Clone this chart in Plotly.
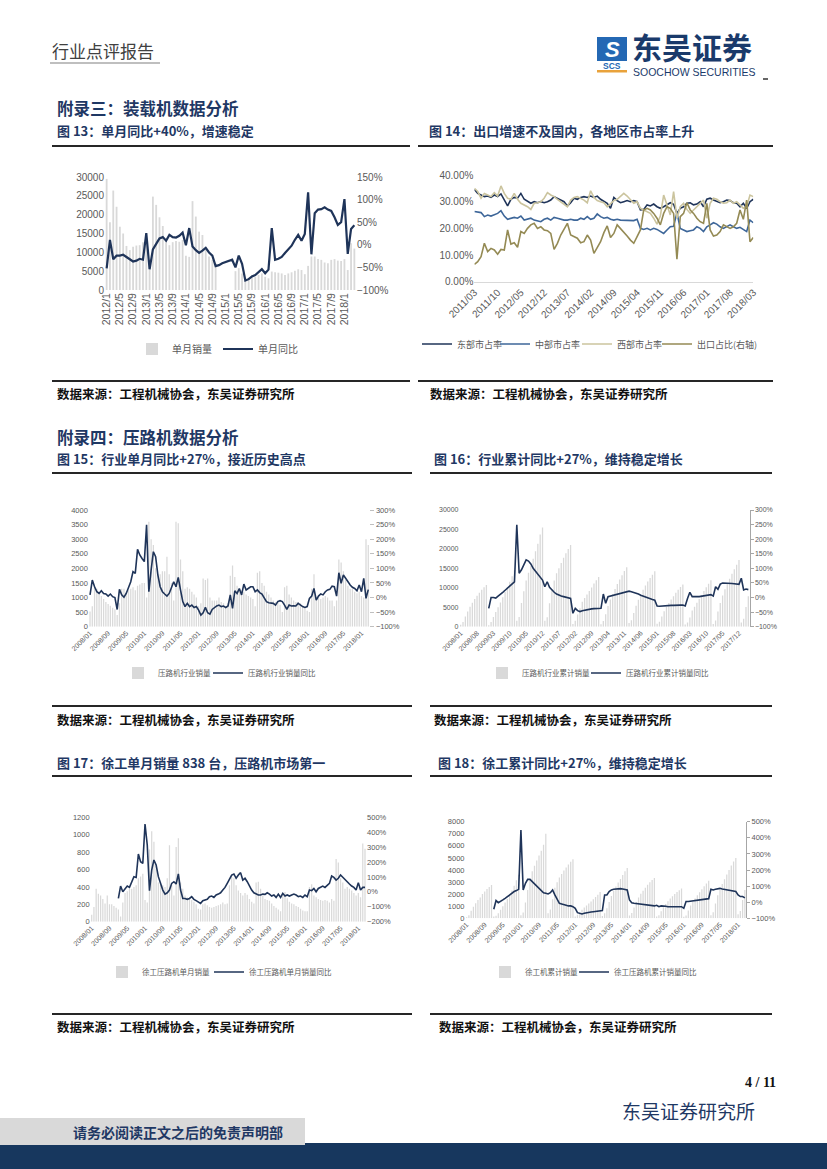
import plotly.graph_objects as go

W, H = 827, 1169
def X(p): return p / W
def Y(p): return 1 - p / H

def months(y0, m0, n, pad=True):
    out = []
    y, m = y0, m0
    for _ in range(n):
        out.append(f"{y}/{m:02d}" if pad else f"{y}/{m}")
        m += 1
        if m > 12:
            m = 1
            y += 1
    return out

# ---------------- DATA ----------------
# Fig 13: loader monthly sales & YoY, 2012/1 - 2018/4
cats13 = months(2012, 1, 76, pad=False)
sales13 = [29500, 18000, 26400, 22100, 16800, 15000, 11700, 10600, 11500, 11800, 11900, 12700,
           13000, 6600, 24800, 22600, 19300, 17000, 13300, 11900, 12700, 13000, 12800, 13300,
           9100, 8800, 23600, 19500, 15500, 14600, 10600, 8900, 8000, 7100, None, None,
           None, None, None, 5000, 5800, 4400, 2700, 3100, 4000, 3500, 4000, 4400,
           3500, 3100, 4900, 4700, 4600, 4400, 4000, 4400, 4700, 5100, 5500, 5300,
           4200, 6400, 8900, 8900, 8200, 8000, 7300, 7100, 8000, 8200, 7800, 7700,
           8200, 5300, 12400, 11000]
yoy13 = [-52, 11, -32, -24, -24, -22, -27, -33, -37, -35, -31, -33,
         26, -54, -10, 2, 14, 17, 9, 22, 17, 16, 20, 27,
         -1, 37, -4, -12, -18, -13, -7, -17, -24, -47, -45, -41,
         -38, -35, -33, -50, -24, -42, -79, -76, -70, -67, -61, -54,
         -63, -55, 37, -33, -31, -27, -18, -11, -2, 11, 22, 9,
         24, 116, -21, 70, 78, 79, 83, 78, 75, 61, 44, 50,
         101, -20, 35, 43]

# Fig 14: regional market share, 2011/03 - 2018/03 (%)
cats14 = months(2011, 3, 85)
east14 = [34.6, 33.1, 32.5, 31.9, 32.1, 31.6, 32.5, 31.9, 32.9, 30.6,
          28.4, 30.9, 31.6, 31.3, 33.1, 30.9, 30.0, 29.4, 30.0, 29.6,
          30.0, 29.6, 30.0, 30.6, 31.9, 31.3, 30.9, 30.0, 28.4, 29.6,
          31.3, 30.9, 31.6, 31.9, 31.6, 32.1, 31.6, 32.1, 30.9, 30.0,
          29.4, 27.5, 31.6, 30.4, 29.6, 30.0, 30.4, 30.0, 30.4, 30.0,
          26.9, 27.1, 28.8, 28.4, 29.1, 28.1, 27.5, 28.1, 28.8, 29.6,
          29.0, 25.6, 27.5, 28.1, 29.4, 29.6, 28.8, 29.1, 30.0, 28.1,
          30.9, 31.3, 30.6, 30.0, 29.6, 30.0, 30.6, 30.4, 29.6, 29.4,
          28.1, 29.4, 27.5, 30.0, 30.9]
central14 = [26.3, 26.0, 25.9, 24.4, 25.0, 24.6, 25.0, 25.6, 26.6, 24.6,
             23.4, 23.8, 24.1, 23.8, 24.6, 23.1, 23.4, 23.8, 23.1, 22.9,
             22.5, 23.4, 23.8, 23.1, 24.1, 23.8, 23.4, 23.1, 23.1, 23.4,
             23.1, 23.1, 23.8, 23.4, 24.4, 23.4, 23.8, 25.4, 24.4, 23.8,
             24.1, 23.4, 23.1, 23.4, 23.1, 23.1, 23.1, 23.1, 22.9, 23.4,
             20.0, 19.6, 20.0, 19.4, 20.0, 19.6, 18.8, 18.1, 19.4, 20.6,
             20.8, 25.9, 20.0, 19.4, 18.8, 19.1, 19.4, 20.6, 20.0, 18.8,
             20.6, 21.3, 22.1, 21.6, 20.6, 20.0, 20.6, 21.3, 20.6, 20.0,
             20.4, 19.6, 18.8, 23.1, 22.1]
west14 = [35.0, 33.8, 31.3, 33.1, 32.5, 31.9, 33.4, 32.1, 35.9, 33.1,
          31.3, 30.9, 33.1, 30.9, 29.4, 28.8, 28.1, 27.1, 29.4, 29.6,
          30.0, 31.3, 33.4, 32.5, 31.9, 30.9, 30.0, 28.8, 28.1, 30.6,
          31.6, 31.9, 31.3, 30.6, 29.6, 34.1, 31.6, 30.4, 30.0, 29.6,
          28.1, 29.4, 30.4, 30.9, 31.9, 33.1, 32.1, 30.6, 29.4, 30.0,
          27.5, 26.9, 26.3, 25.6, 23.8, 21.6, 24.6, 32.5, 28.8, 25.0,
          33.8, 23.8, 28.1, 29.4, 27.1, 25.6, 26.9, 28.1, 29.6, 30.6,
          23.8, 29.4, 31.3, 30.9, 30.0, 29.4, 29.6, 30.6, 29.4, 30.0,
          28.8, 27.5, 28.1, 32.5, 31.9]
export14 = [6.5, 7.5, 9.4, 14.4, 11.3, 12.5, 11.9, 10.3, 12.1, 11.9,
            19.4, 14.1, 14.6, 12.9, 18.8, 18.1, 20.0, 21.3, 21.9, 20.0,
            20.6, 19.4, 19.1, 18.1, 12.1, 14.4, 17.5, 20.0, 21.9, 17.5,
            16.9, 16.3, 14.6, 15.0, 17.5, 15.6, 10.6, 12.9, 15.0, 18.4,
            20.9, 16.6, 18.1, 21.3, 20.0, 18.8, 17.1, 15.6, 14.4, 16.9,
            19.4, 26.9, 27.5, 26.9, 25.6, 23.8, 21.3, 25.6, 28.1, 27.5,
            25.6, 8.4, 24.4, 25.6, 29.6, 26.9, 25.6, 23.8, 22.5, 21.9,
            29.4, 19.4, 17.1, 17.5, 18.8, 21.3, 20.6, 20.0, 20.6, 21.9,
            26.9, 23.4, 30.6, 15.0, 16.6]
pct_ticks14 = [0, 10, 20, 30, 40]
pct_text14 = ["0.00%", "10.00%", "20.00%", "30.00%", "40.00%"]

# Fig 15-18: roller data, 2008/01 - 2018/04
cats_r = months(2008, 1, 124)
sales15 = [520, 700, 1400, 1300, 1200, 1050, 950, 850, 780, 720, 650, 600,
           400, 800, 1300, 1300, 1200, 1250, 1300, 1350, 1250, 1400, 1450, 1500,
           1500, 1000, 3600, 3000, 2800, 2000, 1800, 1800, 1900, 1900, 2400, 1800,
           1500, 900, 3600, 3550, 2300, 1900, 1300, 1350, 1300, 1200, 1100, 1000,
           700, 800, 1650, 1600, 1650, 1000, 900, 900, 900, 1000, 850, 800,
           650, 800, 1750, 2100, 1700, 1400, 1300, 1250, 1200, 1100, 1050, 1000,
           950, 700, 1850, 1900, 1500, 1400, 1200, 1100, 1000, 900, 850, 900,
           750, 500, 1350, 1400, 1100, 1000, 900, 850, 850, 800, 700, 650,
           550, 500, 1300, 1800, 1000, 1000, 950, 1000, 1050, 1000, 900, 900,
           700, 900, 2300, 2200, 1900, 1600, 1400, 1300, 1300, 1200, 1150, 1200,
           1050, 1000, 3000, 2800]
yoy15 = [9, 60, 37, 20, 14, 23, 14, 12, 5, 12, 3, 0,
         -41, 28, 9, 1, 14, 37, 54, 89, 83, 165, 146, 134,
         123, 249, 20, 94, 157, 140, 77, 37, 20, 12, 5, 14,
         31, 54, 37, 69, 26, -14, -31, -20, -31, -26, -34, -31,
         -43, -60, -52, -34, -52, -57, -41, -34, -29, -26, -31, -29,
         -34, -29, 9, -37, 23, 14, 31, 9, 46, 26, 31, 37,
         37, 20, 26, 17, 12, 1, -14, -18, -18, -20, -26, -14,
         -11, -14, -26, -41, -26, -29, -28, -29, -20, -26, -31, -34,
         -31, -3, 5, 31, -9, 5, 12, 9, 20, 26, 28, 39,
         37, 5, 85, 49, 77, 66, 54, 43, 35, 31, 23, 43,
         20, 66, -3, 27]
cum16 = [520, 1220, 2620, 3920, 5120, 6170, 7120, 7970, 8750, 9470, 10120, 10720,
         400, 1200, 2500, 3800, 5000, 6250, 7550, 8900, 10150, 11550, 13000, 14500,
         1500, 2500, 6100, 9100, 11900, 13900, 15700, 17500, 19400, 21300, 23700, 25500,
         1500, 2400, 6000, 9550, 11850, 13750, 15050, 16400, 17700, 18900, 20000, 21000,
         700, 1500, 3150, 4750, 6400, 7400, 8300, 9200, 10100, 11100, 11950, 12750,
         650, 1450, 3200, 5300, 7000, 8400, 9700, 10950, 12150, 13250, 14300, 15300,
         950, 1650, 3500, 5400, 6900, 8300, 9500, 10600, 11600, 12500, 13350, 14250,
         750, 1250, 2600, 4000, 5100, 6100, 7000, 7850, 8700, 9500, 10200, 10850,
         550, 1050, 2350, 4150, 5150, 6150, 7100, 8100, 9150, 10150, 11050, 11950,
         700, 1600, 3900, 6100, 8000, 9600, 11000, 12300, 13600, 14800, 15950, 17150,
         1050, 2050, 5050, 7850]
cumyoy16 = [None] * 12 + [
    -37, 0, 0, -2, 5, 10, 18, 25, 32, 40, 46, 54,
    249, 83, 95, 110, 129, 125, 115, 100, 90, 77, 68, 60,
    37, 54, 35, 25, 18, 12, 8, 5, 3, 1, -1, -3,
    -54, -37, -45, -48, -45, -43, -41, -40, -39, -38, -37, -37,
    -37, 12, -20, 3, 5, 8, 10, 12, 14, 16, 18, 20,
    22, 20, 18, 15, 12, 8, 5, 2, -3, -5, -7, -9,
    -29, -30, -29, -28, -28, -27, -27, -27, -26, -26, -26, -26,
    -29, -3, 18, 3, 2, 3, 3, 4, 5, 6, 8, 10,
    5, 37, 28, 46, 50, 50, 49, 48, 48, 47, 46, 45,
    66, 26, 29, 27]
sales17 = [80, 170, 380, 320, 300, 260, 210, 300, 200, 200, 180, 160,
           140, 60, 220, 330, 350, 380, 380, 400, 420, 500, 520, 550,
           250, 220, 830, 1040, 920, 640, 450, 430, 420, 400, 500, 880,
           420, 300, 860, 960, 450, 380, 300, 280, 260, 250, 230, 200,
           150, 140, 200, 210, 190, 170, 160, 170, 180, 190, 200, 220,
           200, 210, 420, 520, 500, 420, 360, 330, 300, 330, 310, 260,
           230, 210, 450, 460, 380, 300, 260, 250, 240, 210, 180, 160,
           140, 120, 320, 340, 270, 230, 210, 200, 180, 170, 150, 130,
           120, 120, 400, 430, 300, 280, 260, 250, 240, 250, 240, 220,
           260, 240, 720, 680, 500, 450, 380, 400, 380, 360, 330, 300,
           330, 280, 900, 838]
yoy17 = [None] * 12 + [
    -44, 39, 1, 23, 39, 30, 68, 102, 97, 254, 202, 191,
    455, 314, 8, 146, 214, 180, 102, 53, 12, -15, -6, 12,
    57, 68, 53, 120, 12, -44, -44, -50, -44, -32, -50, -59,
    -66, -77, -59, -55, -50, -32, -28, -37, -21, -15, -6, 12,
    30, 57, 84, 113, 120, 91, 113, 129, 79, 91, 68, 39,
    12, -6, -15, -21, -21, -15, -17, -6, -15, -28, -21, -37,
    -15, -37, -10, -28, -21, -28, -21, -15, -21, -32, -28, -37,
    -21, -32, 12, 8, 23, 1, 23, 30, 39, 30, 46, 57,
    106, 97, 79, 91, 113, 97, 79, 62, 53, 39, 30, 12,
    62, 12, 30, 30]
cum18 = [80, 250, 630, 950, 1250, 1510, 1720, 2020, 2220, 2420, 2600, 2760,
         140, 210, 420, 700, 1000, 1300, 1600, 1950, 2300, 2700, 3150, 3600,
         250, 470, 1300, 2340, 3260, 3900, 4350, 4780, 5200, 5600, 6100, 7000,
         420, 720, 1580, 2540, 2990, 3370, 3670, 3950, 4210, 4460, 4690, 4890,
         150, 290, 490, 700, 890, 1060, 1220, 1390, 1570, 1760, 1960, 2180,
         200, 410, 830, 1350, 1850, 2270, 2630, 2960, 3260, 3590, 3900, 4160,
         230, 440, 890, 1350, 1730, 2030, 2290, 2540, 2780, 2990, 3170, 3330,
         140, 260, 580, 920, 1190, 1420, 1630, 1830, 2010, 2180, 2330, 2460,
         120, 240, 640, 1070, 1370, 1650, 1910, 2160, 2400, 2650, 2890, 3110,
         260, 500, 1220, 1900, 2400, 2850, 3230, 3630, 4010, 4370, 4700, 5000,
         330, 610, 1510, 2348]
cumyoy18 = [None] * 12 + [
    -44, 10, -3, 4, 14, 24, 35, 45, 55, 66, 72, 80,
    449, 76, 117, 142, 142, 128, 117, 101, 86, 72, 59, 55,
    51, 59, 76, 45, 18, -7, -11, -17, -19, -23, -23, -28,
    -38, -65, -69, -73, -69, -65, -63, -61, -59, -57, -54, -54,
    -52, 45, 45, 66, 76, 80, 82, 82, 84, 82, 80, 76,
    14, -3, -7, -9, -11, -13, -15, -17, -17, -17, -19, -23,
    -19, -28, -23, -23, -25, -28, -28, -28, -28, -28, -28, -28,
    -38, 4, 4, 6, 8, 10, 12, 14, 16, 18, 20, 22,
    80, 76, 80, 84, 86, 82, 80, 76, 74, 72, 70, 66,
    45, 35, 35, 27]

# ---------------- STYLE ----------------
NAVY = "#1f3459"
BARC = "#d9d9d9"
TICK = "#595959"
CJK = "Noto Sans CJK SC"
LAT = "Liberation Sans, Noto Sans CJK SC"

fig = go.Figure()
legends = {}
_lg_count = [0]

def lg(x, y, size):
    _lg_count[0] += 1
    key = "legend" if _lg_count[0] == 1 else f"legend{_lg_count[0]}"
    legends[key] = dict(x=X(x), y=Y(y), xanchor="left", yanchor="middle", orientation="h",
                        bgcolor="rgba(0,0,0,0)", borderwidth=0,
                        font=dict(size=size, color=TICK, family=CJK),
                        itemclick=False, itemdoubleclick=False)
    return key

def bar(x, y, name, xa, ya, lgkey):
    fig.add_trace(go.Bar(x=x, y=y, name=name, marker=dict(color=BARC, line=dict(width=0)),
                         xaxis=xa, yaxis=ya, legend=lgkey, hoverinfo="skip"))

def line(x, y, name, xa, ya, lgkey, color=NAVY, width=1.6):
    fig.add_trace(go.Scatter(x=x, y=y, name=name, mode="lines", line=dict(color=color, width=width),
                             xaxis=xa, yaxis=ya, legend=lgkey, hoverinfo="skip"))

# Fig 13
bar(cats13, sales13, "单月销量", "x", "y", lg(132, 349, 10))
line(cats13, yoy13, "单月同比", "x", "y2", lg(218, 349, 10), width=2.2)
# Fig 14
line(cats14, east14, "东部市占率", "x2", "y3", lg(417, 344, 9), color="#1f3459", width=1.6)
line(cats14, central14, "中部市占率", "x2", "y3", lg(495, 344, 9), color="#3d6699", width=1.6)
line(cats14, west14, "西部市占率", "x2", "y3", lg(577, 344, 9), color="#cbc49e", width=1.6)
line(cats14, export14, "出口占比(右轴)", "x2", "y3", lg(657, 344, 9), color="#948a54", width=1.6)
# Fig 15
bar(cats_r, sales15, "压路机行业销量", "x3", "y4", lg(118, 673, 7.5))
line(cats_r, yoy15, "压路机行业销量同比", "x3", "y5", lg(208, 673, 7.5))
# Fig 16
bar(cats_r, cum16, "压路机行业累计销量", "x4", "y6", lg(482, 673, 7.5))
line(cats_r, cumyoy16, "压路机行业累计销量同比", "x4", "y7", lg(586, 673, 7.5))
# Fig 17
bar(cats_r, sales17, "徐工压路机单月销量", "x5", "y8", lg(102, 972, 7.5))
line(cats_r, yoy17, "徐工压路机单月销量同比", "x5", "y9", lg(209, 972, 7.5))
# Fig 18
bar(cats_r, cum18, "徐工机累计销量", "x6", "y10", lg(485, 972, 7.5))
line(cats_r, cumyoy18, "徐工压路机累计销量同比", "x6", "y11", lg(574, 972, 7.5))

def xax(dom, anchor, cats, step, angle, size, showline=False):
    return dict(domain=[X(dom[0]), X(dom[1])], anchor=anchor, type="category",
                tickmode="array", tickvals=cats[::step], ticktext=cats[::step],
                tickangle=angle, tickfont=dict(size=size, color=TICK, family=LAT),
                showgrid=False, zeroline=False, showline=showline, linecolor="#d9d9d9",
                ticks="", fixedrange=True, automargin=False)

def yax(dom, anchor, rng, dtick, size, **kw):
    d = dict(domain=[Y(dom[1]), Y(dom[0])], anchor=anchor, range=rng, dtick=dtick,
             tickformat="d", tickfont=dict(size=size, color=TICK, family=LAT), showgrid=False,
             zeroline=False, showline=False, ticks="", fixedrange=True, automargin=False)
    d.update(kw)
    return d

def yax2(over, anchor, rng, dtick, size, **kw):
    d = dict(overlaying=over, anchor=anchor, side="right", range=rng, dtick=dtick,
             tickformat="d", ticksuffix="%", tickfont=dict(size=size, color=TICK, family=LAT),
             showgrid=False, zeroline=False, showline=False, ticks="", fixedrange=True,
             automargin=False)
    d.update(kw)
    return d

layout_axes = dict(
    xaxis=xax((105, 356), "y", cats13, 4, -90, 10.5),
    yaxis=yax((177, 290), "x", [0, 30000], 5000, 10),
    yaxis2=yax2("y", "x", [-100, 150], 50, 10),
    xaxis2=xax((474.4, 753.3), "y3", cats14, 7, -45, 10, showline=True),
    yaxis3=yax((175, 281.7), "x2", [0, 40], None, 10, tickmode="array",
               tickvals=pct_ticks14, ticktext=pct_text14),
    xaxis3=xax((88.9, 369.4), "y4", cats_r, 8, -45, 7),
    yaxis4=yax((510, 626.7), "x3", [0, 4000], 500, 7.5),
    yaxis5=yax2("y4", "x3", [-100, 300], 50, 7.5, ticks="outside", ticklen=4, tickcolor="#bfbfbf"),
    xaxis4=xax((459.5, 749.5), "y6", cats_r, 7, -45, 7),
    yaxis6=yax((510, 626.7), "x4", [0, 30000], 5000, 7),
    yaxis7=yax2("y6", "x4", [-100, 300], 50, 7, showline=True, linecolor="#a6a6a6",
                ticks="outside", ticklen=3, tickcolor="#a6a6a6"),
    xaxis5=xax((90.6, 366.1), "y8", cats_r, 8, -45, 7),
    yaxis8=yax((817.3, 921.7), "x5", [0, 1200], 200, 7.5),
    yaxis9=yax2("y8", "x5", [-200, 500], 100, 7.5),
    xaxis6=xax((465.5, 746), "y10", cats_r, 8, -45, 7),
    yaxis10=yax((821.7, 918.3), "x6", [0, 8000], 1000, 7.5),
    yaxis11=yax2("y10", "x6", [-100, 500], 100, 7.5, showline=True, linecolor="#a6a6a6",
                 ticks="outside", ticklen=3, tickcolor="#a6a6a6"),
)

ann = []
def T(text, x, y, size, color="#1a1a1a", anchor="left", family=CJK, bold=False):
    ann.append(dict(text=f"<b>{text}</b>" if bold else text, x=X(x), y=Y(y),
                    xref="paper", yref="paper", xanchor=anchor, yanchor="middle",
                    showarrow=False, font=dict(size=size, color=color, family=family)))

shapes = []
def L(x0, y0, x1, y1, color="#262626", width=2):
    shapes.append(dict(type="line", xref="paper", yref="paper", x0=X(x0), y0=Y(y0),
                       x1=X(x1), y1=Y(y1), line=dict(color=color, width=width)))
def R(x0, y0, x1, y1, color):
    shapes.append(dict(type="rect", xref="paper", yref="paper", x0=X(x0), y0=Y(y0),
                       x1=X(x1), y1=Y(y1), fillcolor=color, line=dict(width=0), layer="below"))

TITLE = "#1f3864"
# header
T("行业点评报告", 50, 51, 17, "#404040")
L(50, 63, 160, 63, "#808080", 1.2)
R(597, 37, 627, 61, "#2468b4")
T("<i>S</i>", 612, 49, 22, "white", anchor="center", family="Liberation Sans", bold=True)
T("SCS", 612, 66, 8.5, "#2468b4", anchor="center", family="Liberation Sans", bold=True)
R(597, 70, 627, 72.5, "#e9a23b")
T("东吴证券", 630, 46, 30, "#1a3a6b", bold=True)
T("SOOCHOW SECURITIES", 631, 71.5, 10.5, "#1a3a6b", family="Liberation Sans")
L(763, 79, 768, 79, "#333333", 1.5)

# section 1
T("附录三：装载机数据分析", 55, 108, 16.5, TITLE, bold=True)
T("图 13：单月同比+40%，增速稳定", 55, 131, 13, TITLE, bold=True)
T("图 14：出口增速不及国内，各地区市占率上升", 427, 131, 13, TITLE, bold=True)
L(52, 146, 410, 146)
L(418, 146, 773, 146)
L(52, 381, 410, 381)
L(418, 381, 773, 381)
T("数据来源：工程机械协会，东吴证券研究所", 55, 393, 12.5, "#111111", bold=True)
T("数据来源：工程机械协会，东吴证券研究所", 428, 393, 12.5, "#111111", bold=True)

# section 2
T("附录四：压路机数据分析", 55, 437, 16.5, TITLE, bold=True)
T("图 15：行业单月同比+27%，接近历史高点", 55, 459, 13, TITLE, bold=True)
T("图 16：行业累计同比+27%，维持稳定增长", 432, 459, 13, TITLE, bold=True)
L(52, 473, 412, 473)
L(430, 473, 772, 473)
L(52, 706, 412, 706)
L(430, 706, 772, 706)
T("数据来源：工程机械协会，东吴证券研究所", 55, 719, 12.5, "#111111", bold=True)
T("数据来源：工程机械协会，东吴证券研究所", 432, 719, 12.5, "#111111", bold=True)

# section 3
T("图 17：徐工单月销量 838 台，压路机市场第一", 55, 762, 13, TITLE, bold=True)
T("图 18：徐工累计同比+27%，维持稳定增长", 436, 762, 13, TITLE, bold=True)
L(52, 776, 412, 776)
L(430, 776, 772, 776)
L(52, 1014, 412, 1014)
L(430, 1014, 772, 1014)
T("数据来源：工程机械协会，东吴证券研究所", 55, 1026, 12.5, "#111111", bold=True)
T("数据来源：工程机械协会，东吴证券研究所", 437, 1026, 12.5, "#111111", bold=True)

# footer
T("4 / 11", 778, 1082, 14, "#111111", anchor="right", family="Liberation Serif", bold=True)
T("东吴证券研究所", 757, 1110, 19, TITLE, anchor="right")
R(0, 1143, 827, 1169, "#17375e")
R(0, 1118, 305, 1145, "#d9d9d9")
T("请务必阅读正文之后的免责声明部", 178, 1132, 14, TITLE, anchor="center", bold=True)

fig.update_layout(
    width=W, height=H, autosize=False,
    margin=dict(l=0, r=0, t=0, b=0, pad=0, autoexpand=False),
    paper_bgcolor="white", plot_bgcolor="rgba(0,0,0,0)",
    bargap=0.45, showlegend=True, font=dict(family=LAT, color=TICK),
    annotations=ann, shapes=shapes, **layout_axes, **legends,
)

fig.write_html("out.html",
               config={"displayModeBar": False, "staticPlot": True},
               post_script="document.body.style.margin='0';document.body.style.padding='0';"
                           "document.body.style.overflow='hidden';")
